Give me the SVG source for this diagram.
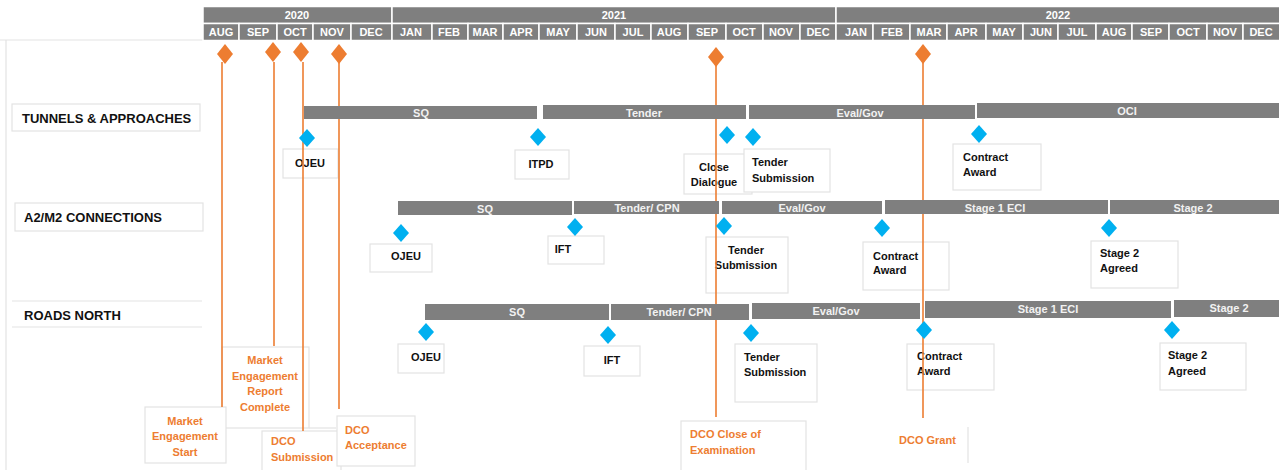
<svg xmlns="http://www.w3.org/2000/svg" width="1279" height="470" viewBox="0 0 1279 470">
  <defs>
    <style>
      .hdr { fill: #7f7f7f; stroke: #ffffff; stroke-width: 1.5; }
      .hdrtxt { font-family: "Liberation Sans", Arial, sans-serif; font-size: 11px; font-weight: bold; fill: #ffffff; text-anchor: middle; }
      .bar { fill: #7f7f7f; }
      .bartxt { font-family: "Liberation Sans", Arial, sans-serif; font-size: 11px; font-weight: bold; fill: #f2f2f2; text-anchor: middle; }
      .box { fill: #ffffff; stroke: #e3e3e3; stroke-width: 1.2; }
      .row { font-family: "Liberation Sans", Arial, sans-serif; font-size: 13px; font-weight: bold; fill: #111111; }
      .lbl { font-family: "Liberation Sans", Arial, sans-serif; font-size: 11px; font-weight: bold; fill: #111111; }
      .olbl { font-family: "Liberation Sans", Arial, sans-serif; font-size: 11px; font-weight: bold; fill: #ed7d31; }
      .mid { text-anchor: middle; }
      .ms { fill: #00b0f0; }
      .dco { fill: #ed7d31; }
      .stem { stroke: #ed7d31; stroke-width: 1.6; fill: none; }
      .frame { stroke: #e3e3e3; stroke-width: 1.2; fill: none; }
    </style>
    <path id="blue" d="M0,-9 L8,0 L0,9 L-8,0 Z"/>
    <path id="orange" d="M0,-10 L8,0 L0,10 L-8,0 Z"/>
  </defs>

  <rect width="1279" height="470" fill="#ffffff"/>

  <!-- page frame -->
  <g id="frame">
    <line class="frame" x1="0" y1="40" x2="203" y2="40"/>
    <line class="frame" x1="6" y1="40" x2="6" y2="470"/>
  </g>

  <!-- timeline header -->
  <g id="header">
    <rect class="hdr" x="203" y="6.5" width="189" height="17"/>
    <rect class="hdr" x="392" y="6.5" width="444" height="17"/>
    <rect class="hdr" x="836" y="6.5" width="444" height="17"/>
    <text class="hdrtxt" x="297" y="19">2020</text>
    <text class="hdrtxt" x="614" y="19">2021</text>
    <text class="hdrtxt" x="1058" y="19">2022</text>

    <rect class="hdr" x="203" y="23.5" width="36" height="17"/>
    <rect class="hdr" x="239" y="23.5" width="38" height="17"/>
    <rect class="hdr" x="277" y="23.5" width="36" height="17"/>
    <rect class="hdr" x="313" y="23.5" width="38" height="17"/>
    <rect class="hdr" x="351" y="23.5" width="41" height="17"/>
    <rect class="hdr" x="392" y="23.5" width="40" height="17"/>
    <rect class="hdr" x="432" y="23.5" width="36" height="17"/>
    <rect class="hdr" x="468" y="23.5" width="35" height="17"/>
    <rect class="hdr" x="503" y="23.5" width="36" height="17"/>
    <rect class="hdr" x="539" y="23.5" width="38" height="17"/>
    <rect class="hdr" x="577" y="23.5" width="38" height="17"/>
    <rect class="hdr" x="615" y="23.5" width="36" height="17"/>
    <rect class="hdr" x="651" y="23.5" width="37" height="17"/>
    <rect class="hdr" x="688" y="23.5" width="38" height="17"/>
    <rect class="hdr" x="726" y="23.5" width="37" height="17"/>
    <rect class="hdr" x="763" y="23.5" width="37" height="17"/>
    <rect class="hdr" x="800" y="23.5" width="36" height="17"/>
    <rect class="hdr" x="836" y="23.5" width="37" height="17"/>
    <rect class="hdr" x="873" y="23.5" width="37" height="17"/>
    <rect class="hdr" x="910" y="23.5" width="37" height="17"/>
    <rect class="hdr" x="947" y="23.5" width="39" height="17"/>
    <rect class="hdr" x="986" y="23.5" width="37" height="17"/>
    <rect class="hdr" x="1023" y="23.5" width="35" height="17"/>
    <rect class="hdr" x="1058" y="23.5" width="38" height="17"/>
    <rect class="hdr" x="1096" y="23.5" width="36" height="17"/>
    <rect class="hdr" x="1132" y="23.5" width="37" height="17"/>
    <rect class="hdr" x="1169" y="23.5" width="38" height="17"/>
    <rect class="hdr" x="1207" y="23.5" width="36" height="17"/>
    <rect class="hdr" x="1243" y="23.5" width="37" height="17"/>

    <text class="hdrtxt" x="221" y="36">AUG</text>
    <text class="hdrtxt" x="258" y="36">SEP</text>
    <text class="hdrtxt" x="295" y="36">OCT</text>
    <text class="hdrtxt" x="332" y="36">NOV</text>
    <text class="hdrtxt" x="371" y="36">DEC</text>
    <text class="hdrtxt" x="411" y="36">JAN</text>
    <text class="hdrtxt" x="449" y="36">FEB</text>
    <text class="hdrtxt" x="485" y="36">MAR</text>
    <text class="hdrtxt" x="521" y="36">APR</text>
    <text class="hdrtxt" x="558" y="36">MAY</text>
    <text class="hdrtxt" x="596" y="36">JUN</text>
    <text class="hdrtxt" x="633" y="36">JUL</text>
    <text class="hdrtxt" x="669" y="36">AUG</text>
    <text class="hdrtxt" x="707" y="36">SEP</text>
    <text class="hdrtxt" x="744" y="36">OCT</text>
    <text class="hdrtxt" x="781" y="36">NOV</text>
    <text class="hdrtxt" x="818" y="36">DEC</text>
    <text class="hdrtxt" x="856" y="36">JAN</text>
    <text class="hdrtxt" x="892" y="36">FEB</text>
    <text class="hdrtxt" x="929" y="36">MAR</text>
    <text class="hdrtxt" x="966" y="36">APR</text>
    <text class="hdrtxt" x="1004" y="36">MAY</text>
    <text class="hdrtxt" x="1041" y="36">JUN</text>
    <text class="hdrtxt" x="1077" y="36">JUL</text>
    <text class="hdrtxt" x="1114" y="36">AUG</text>
    <text class="hdrtxt" x="1151" y="36">SEP</text>
    <text class="hdrtxt" x="1188" y="36">OCT</text>
    <text class="hdrtxt" x="1225" y="36">NOV</text>
    <text class="hdrtxt" x="1261" y="36">DEC</text>
  </g>

  <!-- workstream titles -->
  <g id="row-tunnels">
    <rect class="box" x="12" y="104" width="188" height="27"/>
    <text class="row" x="22" y="123">TUNNELS &amp; APPROACHES</text>
  </g>
  <g id="row-a2m2">
    <rect class="box" x="15" y="203" width="188" height="28"/>
    <text class="row" x="24" y="222">A2/M2 CONNECTIONS</text>
  </g>
  <g id="row-roads">
    <line class="frame" x1="12" y1="301" x2="202" y2="301"/>
    <line class="frame" x1="12" y1="327" x2="202" y2="327"/>
    <text class="row" x="24" y="320">ROADS NORTH</text>
  </g>

  <!-- milestone label boxes: tunnels & approaches -->
  <g id="t-ojeu">
    <rect class="box" x="283" y="149" width="55" height="29"/>
    <text class="lbl mid" x="310" y="167">OJEU</text>
  </g>
  <g id="t-itpd">
    <rect class="box" x="515" y="150" width="54" height="29"/>
    <text class="lbl mid" x="541" y="168">ITPD</text>
  </g>
  <g id="t-close">
    <rect class="box" x="684" y="154" width="68" height="40"/>
    <text class="lbl mid" x="714" y="171">Close</text>
    <text class="lbl mid" x="714" y="186">Dialogue</text>
  </g>
  <g id="t-tender">
    <rect class="box" x="744" y="149" width="86" height="43"/>
    <text class="lbl" x="752" y="166">Tender</text>
    <text class="lbl" x="752" y="182">Submission</text>
  </g>
  <g id="t-award">
    <rect class="box" x="953" y="144" width="88" height="46"/>
    <text class="lbl" x="963" y="161">Contract</text>
    <text class="lbl" x="963" y="176">Award</text>
  </g>

  <!-- milestone label boxes: A2/M2 connections -->
  <g id="a-ojeu">
    <rect class="box" x="370" y="244" width="62" height="28"/>
    <text class="lbl mid" x="406" y="260">OJEU</text>
  </g>
  <g id="a-ift">
    <rect class="box" x="548" y="236" width="56" height="28"/>
    <text class="lbl mid" x="563" y="253">IFT</text>
  </g>
  <g id="a-tender">
    <rect class="box" x="706" y="237" width="82" height="56"/>
    <text class="lbl mid" x="746" y="254">Tender</text>
    <text class="lbl mid" x="746" y="269">Submission</text>
  </g>
  <g id="a-award">
    <rect class="box" x="863" y="242" width="86" height="48"/>
    <text class="lbl" x="873" y="260">Contract</text>
    <text class="lbl" x="873" y="274">Award</text>
  </g>
  <g id="a-stage2">
    <rect class="box" x="1091" y="241" width="87" height="47"/>
    <text class="lbl" x="1100" y="257">Stage 2</text>
    <text class="lbl" x="1100" y="272">Agreed</text>
  </g>

  <!-- milestone label boxes: roads north -->
  <g id="r-ojeu">
    <rect class="box" x="398" y="344" width="46" height="29"/>
    <text class="lbl mid" x="426" y="361">OJEU</text>
  </g>
  <g id="r-ift">
    <rect class="box" x="584" y="346" width="56" height="30"/>
    <text class="lbl mid" x="612" y="364">IFT</text>
  </g>
  <g id="r-tender">
    <rect class="box" x="735" y="344" width="82" height="58"/>
    <text class="lbl" x="744" y="361">Tender</text>
    <text class="lbl" x="744" y="376">Submission</text>
  </g>
  <g id="r-award">
    <rect class="box" x="907" y="344" width="87" height="46"/>
    <text class="lbl" x="917" y="360">Contract</text>
    <text class="lbl" x="917" y="375">Award</text>
  </g>
  <g id="r-stage2">
    <rect class="box" x="1160" y="343" width="86" height="47"/>
    <text class="lbl" x="1168" y="359">Stage 2</text>
    <text class="lbl" x="1168" y="375">Agreed</text>
  </g>

  <!-- key dates (consent and engagement) -->
  <g id="k-report">
    <rect class="box" x="222" y="347" width="87" height="81"/>
    <line class="frame" x1="309" y1="428" x2="336" y2="428"/>
    <text class="olbl mid" x="265" y="364">Market</text>
    <text class="olbl mid" x="265" y="380">Engagement</text>
    <text class="olbl mid" x="265" y="395">Report</text>
    <text class="olbl mid" x="265" y="411">Complete</text>
  </g>
  <g id="k-start">
    <rect class="box" x="145" y="407" width="81" height="56"/>
    <text class="olbl mid" x="185" y="425">Market</text>
    <text class="olbl mid" x="185" y="440">Engagement</text>
    <text class="olbl mid" x="185" y="456">Start</text>
  </g>
  <g id="k-submission">
    <rect class="box" x="262" y="431" width="79" height="40"/>
    <text class="olbl" x="271" y="445">DCO</text>
    <text class="olbl" x="271" y="461">Submission</text>
  </g>
  <g id="k-acceptance">
    <rect class="box" x="337" y="416" width="78" height="50"/>
    <text class="olbl" x="345" y="434">DCO</text>
    <text class="olbl" x="345" y="449">Acceptance</text>
  </g>
  <g id="k-exam">
    <rect class="box" x="681" y="421" width="125" height="50"/>
    <text class="olbl" x="690" y="438">DCO Close of</text>
    <text class="olbl" x="690" y="454">Examination</text>
  </g>
  <g id="k-grant">
    <line class="frame" x1="968" y1="427" x2="968" y2="463"/>
    <text class="olbl" x="899" y="444">DCO Grant</text>
  </g>

  <!-- connectors: key date stems -->
  <g id="connectors">
    <line class="stem" x1="222" y1="62" x2="222" y2="407"/>
    <line class="stem" x1="274" y1="62" x2="274" y2="346"/>
    <line class="stem" x1="303" y1="62" x2="303" y2="431"/>
    <line class="stem" x1="339" y1="62" x2="339" y2="409"/>
    <line class="stem" x1="716" y1="62" x2="716" y2="417"/>
    <line class="stem" x1="923" y1="62" x2="923" y2="418"/>
  </g>

  <!-- stage bars: tunnels & approaches -->
  <g id="bars-tunnels">
    <rect class="bar" x="304" y="106" width="233" height="13"/>
    <text class="bartxt" x="421" y="117">SQ</text>
    <rect class="bar" x="543" y="105" width="203" height="14"/>
    <text class="bartxt" x="644" y="117">Tender</text>
    <rect class="bar" x="749" y="105" width="226" height="14"/>
    <text class="bartxt" x="860" y="117">Eval/Gov</text>
    <rect class="bar" x="977" y="103" width="302" height="15"/>
    <text class="bartxt" x="1127" y="115">OCI</text>
  </g>

  <!-- stage bars: A2/M2 connections -->
  <g id="bars-a2m2">
    <rect class="bar" x="398" y="201" width="174" height="14"/>
    <text class="bartxt" x="485" y="213">SQ</text>
    <rect class="bar" x="574" y="201" width="145" height="13"/>
    <text class="bartxt" x="647" y="212">Tender/ CPN</text>
    <rect class="bar" x="722" y="201" width="160" height="13"/>
    <text class="bartxt" x="802" y="212">Eval/Gov</text>
    <rect class="bar" x="885" y="200" width="223" height="14"/>
    <text class="bartxt" x="995" y="212">Stage 1 ECI</text>
    <rect class="bar" x="1110" y="200" width="169" height="14"/>
    <text class="bartxt" x="1193" y="212">Stage 2</text>
  </g>

  <!-- stage bars: roads north -->
  <g id="bars-roads">
    <rect class="bar" x="425" y="304" width="184" height="16"/>
    <text class="bartxt" x="517" y="316">SQ</text>
    <rect class="bar" x="611" y="304" width="138" height="16"/>
    <text class="bartxt" x="679" y="316">Tender/ CPN</text>
    <rect class="bar" x="752" y="303" width="168" height="16"/>
    <text class="bartxt" x="836" y="315">Eval/Gov</text>
    <rect class="bar" x="925" y="301" width="246" height="17"/>
    <text class="bartxt" x="1048" y="313">Stage 1 ECI</text>
    <rect class="bar" x="1174" y="300" width="105" height="17"/>
    <text class="bartxt" x="1229" y="312">Stage 2</text>
  </g>

  <!-- key date markers -->
  <g id="key-markers">
    <use href="#orange" class="dco" x="225" y="54"/>
    <use href="#orange" class="dco" x="273" y="52"/>
    <use href="#orange" class="dco" x="301" y="52"/>
    <use href="#orange" class="dco" x="339" y="54"/>
    <use href="#orange" class="dco" x="716" y="57"/>
    <use href="#orange" class="dco" x="923" y="54"/>
  </g>

  <!-- procurement milestone markers -->
  <g id="milestones">
    <use href="#blue" class="ms" x="307" y="138"/>
    <use href="#blue" class="ms" x="538" y="137"/>
    <use href="#blue" class="ms" x="727" y="135"/>
    <use href="#blue" class="ms" x="753" y="137"/>
    <use href="#blue" class="ms" x="979" y="134"/>

    <use href="#blue" class="ms" x="401" y="233"/>
    <use href="#blue" class="ms" x="575" y="227"/>
    <use href="#blue" class="ms" x="724" y="226"/>
    <use href="#blue" class="ms" x="882" y="228"/>
    <use href="#blue" class="ms" x="1109" y="228"/>

    <use href="#blue" class="ms" x="426" y="332"/>
    <use href="#blue" class="ms" x="608" y="335"/>
    <use href="#blue" class="ms" x="751" y="333"/>
    <use href="#blue" class="ms" x="924" y="330"/>
    <use href="#blue" class="ms" x="1172" y="330"/>
  </g>
</svg>
